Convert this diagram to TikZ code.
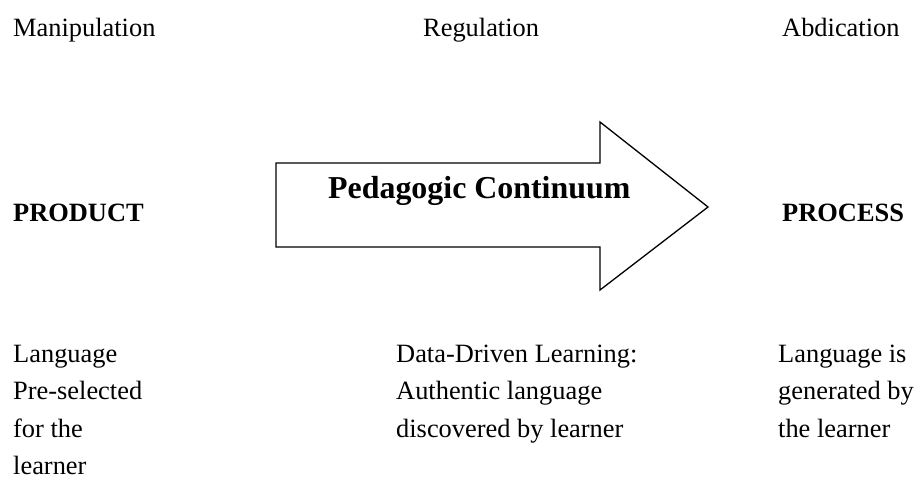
\documentclass[tikz,border=0pt]{standalone}
\usepackage{fontspec}
\setmainfont{Liberation Serif}
\begin{document}
\begin{tikzpicture}[x=1pt,y=-1pt,
  lbl/.style={inner sep=0pt,anchor=base west,align=left,font=\fontsize{26.4}{37.5}\selectfont},
  hd/.style={lbl,font=\fontsize{26.4}{37.5}\selectfont\bfseries},
  arrowshape/.style={draw=black,line width=1.3pt,fill=white,line join=miter}]
\useasboundingbox (0,0) rectangle (918,497);
\node[lbl] (manip) at (13,37) {Manipulation};
\node[lbl] (regul) at (423,37) {Regulation};
\node[lbl] (abdic) at (782,37) {Abdication};
\node[hd] (product) at (13,222) {PRODUCT};
\node[hd] (process) at (782,222) {PROCESS};
\draw[arrowshape] (276,163) -- (600,163) -- (600,122) -- (708,207) -- (600,290) -- (600,247) -- (276,247) -- cycle;
\node[inner sep=0pt,anchor=base west,font=\fontsize{31.9}{38}\selectfont\bfseries] (cont) at (328,199) {Pedagogic Continuum};
\node[lbl] (left) at (13,474.5) {Language\\Pre-selected\\for the\\learner};
\node[lbl] (mid) at (396,437) {Data-Driven Learning:\\Authentic language\\discovered by learner};
\node[lbl] (right) at (778,437) {Language is\\generated by\\the learner};
\end{tikzpicture}
\end{document}
